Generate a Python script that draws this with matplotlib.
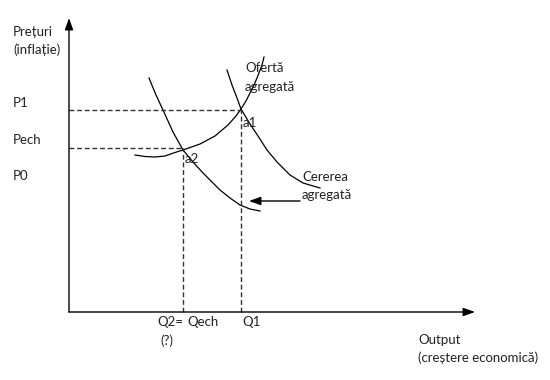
"""
Aggregate supply / aggregate demand diagram (AS-AD)
"""

import matplotlib.pyplot as plt

plt.rcParams['font.family'] = ['Lato', 'DejaVu Sans']

# curve points (output, price)
as_q = [66, 76, 86, 96, 106, 114, 131, 146, 159, 167, 172, 177, 181, 185, 188, 193, 195]
as_p = [157, 155.5, 155, 156, 159.5, 162, 168, 176, 187, 196, 203, 211, 219, 227, 234, 247, 255]

ad1_q = [158, 163, 168, 172, 181, 189, 198, 208, 221, 234, 251]
ad1_p = [242, 227, 214, 203, 188, 176, 162, 150, 137, 129, 124]

ad2_q = [80, 87, 94, 104, 114, 124, 134, 143, 151, 161, 171, 181, 191]
ad2_p = [234, 217, 202, 180, 162, 150, 139, 130, 122, 114, 107, 103, 101]

# equilibrium levels
q_levels = {'Q2': 114, 'Q1': 172}
p_levels = {'P1': 202, 'Pech': 164}

# axis labels
price_labels = [('P1', 209), ('Pech', 172), ('P0', 136)]
output_labels = [('Q2=', 'Q2', -26, -10), ('(?)', 'Q2', -23, -29),
                 ('Qech', 'Q2', 4, -10), ('Q1', 'Q1', 1, -10)]

TXT = '#222222'

fig = plt.figure(figsize=(5.5, 3.8), dpi=100)
ax = fig.add_axes([0, 0, 1, 1])
ax.set_xlim(-69, 481)
ax.set_ylim(-68, 312)
ax.axis('off')

# axes with arrows
arrow = dict(arrowstyle='-|>,head_length=0.7,head_width=0.25', lw=1, color='black',
             shrinkA=0, shrinkB=0)
ax.annotate('', xy=(0, 294), xytext=(0, 0), arrowprops=arrow)
ax.annotate('', xy=(406, 0), xytext=(0, 0), arrowprops=arrow)

# curves
for q, p in [(as_q, as_p), (ad1_q, ad1_p), (ad2_q, ad2_p)]:
    ax.plot(q, p, color='black', lw=0.9, solid_joinstyle='round')

# dashed guides
dash = dict(color='#333333', lw=1, linestyle=(0, (3.5, 2)))
ax.plot([0, q_levels['Q1']], [p_levels['P1']] * 2, **dash)
ax.plot([0, q_levels['Q2']], [p_levels['Pech']] * 2, **dash)
ax.plot([q_levels['Q1']] * 2, [0, p_levels['P1']], **dash)
ax.plot([q_levels['Q2']] * 2, [0, p_levels['Pech']], **dash)

fs = 9.5
ax.text(-56, 280, 'Prețuri', fontsize=fs, color=TXT, va='center')
ax.text(-56, 262, '(inflație)', fontsize=fs, color=TXT, va='center')
for lab, y in price_labels:
    ax.text(-56, y, lab, fontsize=fs, color=TXT, va='center')

for lab, key, dx, y in output_labels:
    ax.text(q_levels[key] + dx, y, lab, fontsize=fs, color=TXT, va='center')

ax.text(349, -28, 'Output', fontsize=fs, color=TXT, va='center')
ax.text(349, -46, '(creștere economică)', fontsize=fs, color=TXT, va='center')

ax.text(176, 244, 'Ofertă', fontsize=fs, color=TXT, va='center')
ax.text(176, 225, 'agregată', fontsize=fs, color=TXT, va='center')
ax.text(233, 135, 'Cererea', fontsize=fs, color=TXT, va='center')
ax.text(233, 117, 'agregată', fontsize=fs, color=TXT, va='center')

ax.text(q_levels['Q1'] + 2, 189, 'a1', fontsize=fs, color=TXT, va='center')
ax.text(q_levels['Q2'] + 2, 153, 'a2', fontsize=fs, color=TXT, va='center')

# shift arrow
ax.annotate('', xy=(180, 111), xytext=(231, 111),
            arrowprops=dict(arrowstyle='-|>,head_length=0.7,head_width=0.25',
                            lw=1, color='black', shrinkA=0, shrinkB=0))

plt.savefig('out.png', dpi=100)
